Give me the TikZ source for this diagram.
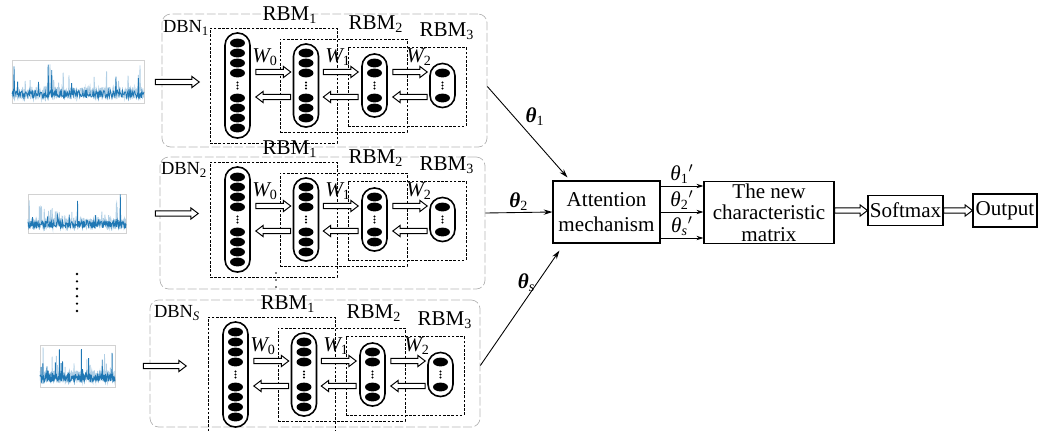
\documentclass[tikz,border=0pt]{standalone}
\usepackage{fontspec}
\setmainfont{Liberation Serif}
\usetikzlibrary{arrows.meta,calc}
\definecolor{SigBlue}{HTML}{1F77B4}
\definecolor{FrameGray}{HTML}{B4B4B4}
\newcommand{\pxu}{0.02cm}

% hollow (outlined) arrow between two points
\newcommand{\fatarrow}[2]{%
  \path (#1) coordinate (fa-s) (#2) coordinate (fa-e);
  \path ($(fa-e)!4.2pt!(fa-s)$) coordinate (fa-b);
  \draw[fatline] ($(fa-s)!1.5pt!90:(fa-e)$) -- ($(fa-b)!1.5pt!90:(fa-e)$)
    -- ($(fa-b)!3.2pt!90:(fa-e)$) -- (fa-e) -- ($(fa-b)!3.2pt!-90:(fa-e)$)
    -- ($(fa-b)!1.5pt!-90:(fa-e)$) -- ($(fa-s)!1.5pt!-90:(fa-e)$) -- cycle;}

% noisy time series: x0, y0, width, height, seed
\newcommand{\noisesig}[5]{%
  \pgfmathsetseed{#5}
  \draw[SigBlue!35, line width=0.5pt] plot[domain=0:1, samples=320]
    ({#1+#3*\x}, {#2+#4*(0.76+0.15*rand)-#4*0.6*pow(rnd,30)});
  \draw[SigBlue, line width=0.45pt] plot[domain=0:1, samples=260]
    ({#1+#3*\x}, {#2+#4*(0.78+0.09*rand)-#4*0.75*pow(rnd,45)});}

% one DBN: name, x shift, y shift
\newcommand{\dbnblock}[3]{%
\begin{scope}[shift={(#2,#3)}]
  \node[rbmbox, minimum width=127*\pxu, minimum height=115*\pxu] (#1-r1) at (273.5,85.5) {};
  \node[rbmbox, minimum width=127*\pxu, minimum height=93*\pxu] (#1-r2) at (343.5,85.5) {};
  \node[rbmbox, minimum width=118*\pxu, minimum height=79*\pxu] (#1-r3) at (407,86.5) {};
  \node[rbmlab] (#1-t1) at (290,15) {RBM\textsubscript{1}};
  \node[rbmlab] (#1-t2) at (376,24) {RBM\textsubscript{2}};
  \node[rbmlab] (#1-t3) at (447,31) {RBM\textsubscript{3}};
  \node[capsule, minimum height=105*\pxu] (#1-L1) at (237.5,85.5) {};
  \node[capsule, minimum height=83*\pxu] (#1-L2) at (306,85.5) {};
  \node[capsule, minimum height=63*\pxu] (#1-L3) at (374.5,85.5) {};
  \node[capsule, minimum height=44*\pxu] (#1-L4) at (442.5,85.5) {};
  \foreach \cx/\n in {237.5/4, 306/3, 374.5/2, 442.5/1} {
    \foreach \k in {1,...,\n} {
      \fill (\cx,{83-10*\k}) ellipse [x radius=0.15cm, y radius=0.088cm];
      \fill (\cx,{88+10*\k}) ellipse [x radius=0.15cm, y radius=0.088cm];
    }
    \foreach \d in {-3,0,3} \fill (\cx,{85.5+\d}) circle [radius=0.6pt];
  }
  \node[wlab] (#1-w0) at (265,57) {{\itshape W}\textsubscript{0}};
  \node[wlab] (#1-w1) at (338,57) {{\itshape W}\textsubscript{1}};
  \node[wlab] (#1-w2) at (419,57) {{\itshape W}\textsubscript{2}};
  \fatarrow{[shift={(5,-13.5)}]#1-L1.east}{[shift={(-2,-13.5)}]#1-L2.west}
  \fatarrow{[shift={(4,-13.5)}]#1-L2.east}{[shift={(-3,-13.5)}]#1-L3.west}
  \fatarrow{[shift={(5,-13.5)}]#1-L3.east}{[shift={(-2,-13.5)}]#1-L4.west}
  \fatarrow{[shift={(-2,11.5)}]#1-L2.west}{[shift={(5,11.5)}]#1-L1.east}
  \fatarrow{[shift={(-3,11.5)}]#1-L3.west}{[shift={(4,11.5)}]#1-L2.east}
  \fatarrow{[shift={(-2,11.5)}]#1-L4.west}{[shift={(5,11.5)}]#1-L3.east}
\end{scope}}

\begin{document}
\begin{tikzpicture}[x=0.02cm, y=-0.02cm,
  dbnframe/.style={draw=FrameGray, dash pattern=on 5pt off 1.5pt, rounded corners=5pt, line width=0.4pt, inner sep=0pt},
  dbnlab/.style={font=\fontsize{10.5}{12}\selectfont, inner sep=0pt, anchor=west},
  rbmbox/.style={draw, dash pattern=on 1.5pt off 0.9pt, line width=0.5pt, inner sep=0pt},
  rbmlab/.style={font=\fontsize{12}{14}\selectfont, inner sep=0pt},
  wlab/.style={font=\fontsize{12}{14}\selectfont, inner sep=0pt},
  capsule/.style={draw, line width=0.9pt, rounded corners=0.245cm, minimum width=25*\pxu, inner sep=0pt},
  sigframe/.style={draw=gray!35, line width=0.4pt, inner sep=0pt},
  fatline/.style={draw, fill=white, line width=0.55pt, line join=miter},
  procbox/.style={draw, line width=0.6pt, align=center, inner sep=1pt, font=\fontsize{12}{14.5}\selectfont},
  thinarrow/.style={-{Stealth[length=5pt, width=3pt]}, line width=0.5pt},
  thlab/.style={font=\fontsize{12}{14}\selectfont, inner sep=1pt}
]
\useasboundingbox (0,0) rectangle (1045,430);

% DBN frames
\node[dbnframe, minimum width=325*\pxu, minimum height=133*\pxu] (dbn1) at (324.5,80.5) {};
\node[dbnframe, minimum width=325*\pxu, minimum height=132*\pxu] (dbn2) at (322.5,223) {};
\node[dbnframe, minimum width=330*\pxu, minimum height=127*\pxu] (dbn3) at (315,363.5) {};
\node[dbnlab] (dbn1lab) at ([shift={(1,14)}]dbn1.north west) {DBN\textsubscript{1}};
\node[dbnlab] (dbn2lab) at ([shift={(1,13)}]dbn2.north west) {DBN\textsubscript{2}};
\node[dbnlab] (dbn3lab) at ([shift={(4,13)}]dbn3.north west) {DBN\textsubscript{\itshape S}};

% input signals
\node[sigframe, minimum width=132*\pxu, minimum height=43*\pxu] (sig1) at (78,82) {};
\noisesig{12}{60.5}{132}{43}{11}
\node[sigframe, minimum width=98*\pxu, minimum height=39*\pxu] (sig2) at (77,213.5) {};
\noisesig{28}{194}{98}{39}{27}
\node[sigframe, minimum width=75*\pxu, minimum height=42*\pxu] (sig3) at (77.5,366) {};
\noisesig{40}{345}{75}{42}{5}
\foreach \yy in {274,281.4,288.8,296.2,303.6,311} \fill (77,\yy) circle [radius=0.75pt];
\foreach \yy in {273,280,287} \fill (276,\yy) circle [radius=0.5pt];

% the three DBNs
\dbnblock{b1}{0}{0}
\dbnblock{b2}{0}{134}
\dbnblock{b3}{-2}{289}

\fatarrow{[xshift=0.22cm]sig1.east}{[xshift=-0.5cm]sig1.east -| b1-L1.west}
\fatarrow{[xshift=0.58cm]sig2.east}{[xshift=-0.52cm]sig2.east -| b2-L1.west}
\fatarrow{[xshift=0.56cm]sig3.east}{[xshift=-0.72cm]sig3.east -| b3-L1.west}

% attention and output part
\node[procbox, minimum width=107*\pxu, minimum height=62*\pxu] (att) at (606.5,212) {Attention\\mechanism};
\node[procbox, minimum width=130*\pxu, minimum height=61*\pxu, font=\fontsize{12}{12.3}\selectfont] (mat) at (769,212.5) {The new\\characteristic\\matrix};
\node[procbox, minimum width=75*\pxu, minimum height=30*\pxu] (soft) at (905.5,210.5) {Softmax};
\node[procbox, minimum width=64*\pxu, minimum height=33*\pxu] (outp) at (1005,210.5) {Output};

\draw[thinarrow] ([shift={(0,6)}]dbn1.east) -- ([shift={(15,-3)}]att.north west)
  node[thlab, pos=0.45, above right] {{\bfseries\itshape θ}\textsubscript{1}};
\draw[thinarrow] ([shift={(0,-10)}]dbn2.east) -- (att.west)
  node[thlab, midway, above] {{\bfseries\itshape θ}\textsubscript{2}};
\draw[thinarrow] ([shift={(0,2)}]dbn3.east) -- ([shift={(7,7)}]att.south west)
  node[thlab, pos=0.72, left] {{\bfseries\itshape θ}\textsubscript{\itshape s}};

\draw[thinarrow, -{Stealth[length=4pt, width=2.5pt]}] ([shift={(0,-26)}]att.east) -- ([shift={(0,-26)}]att.east -| mat.west)
  node[thlab, midway, above] {{\itshape θ}\textsubscript{1}$'$};
\draw[thinarrow, -{Stealth[length=4pt, width=2.5pt]}] (att.east) -- (att.east -| mat.west)
  node[thlab, midway, above] {{\itshape θ}\textsubscript{2}$'$};
\draw[thinarrow, -{Stealth[length=4pt, width=2.5pt]}] ([shift={(0,26)}]att.east) -- ([shift={(0,26)}]att.east -| mat.west)
  node[thlab, midway, above] {{\itshape θ}\textsubscript{\itshape s}$'$};

\fatarrow{mat.east |- soft.west}{soft.west}
\fatarrow{soft.east}{outp.west}
\end{tikzpicture}
\end{document}
